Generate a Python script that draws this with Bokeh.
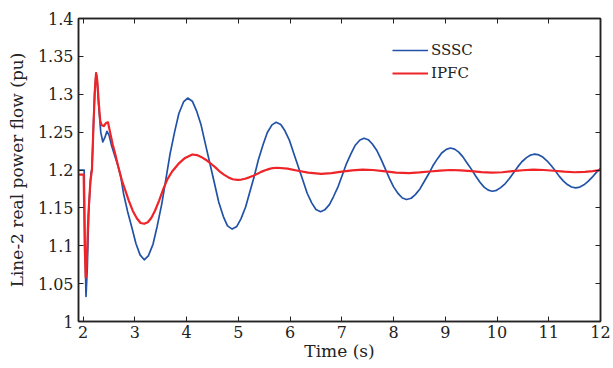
from bokeh.plotting import figure
from bokeh.models import Range1d, FixedTicker, LinearAxis, Legend, LegendItem, CustomJSTickFormatter
from bokeh.embed import file_html
from bokeh.resources import INLINE

# ---- data ----
sssc_t = [1.91, 2.0, 2.02, 2.035, 2.055, 2.08, 2.11, 2.15, 2.17, 2.19, 2.22, 2.25, 2.27, 2.30,
          2.34, 2.38, 2.42, 2.46, 2.50, 2.55, 2.62, 2.68, 2.73, 2.78, 2.86, 2.94, 3.02, 3.10,
          3.18, 3.26, 3.35, 3.43, 3.52, 3.60, 3.68, 3.77, 3.85, 3.94,
          4.02, 4.11, 4.19, 4.28, 4.36, 4.45, 4.54, 4.62, 4.71, 4.79,
          4.88, 4.97, 5.05, 5.14, 5.22, 5.31, 5.39, 5.48, 5.56, 5.65,
          5.73, 5.82, 5.90, 5.99, 6.07, 6.16, 6.25, 6.33, 6.42, 6.50,
          6.59, 6.67, 6.76, 6.84, 6.93, 7.01, 7.09, 7.18, 7.26, 7.35,
          7.43, 7.51, 7.59, 7.68, 7.76, 7.84, 7.92, 8.00, 8.09, 8.17,
          8.25, 8.34, 8.42, 8.51, 8.59, 8.68, 8.76, 8.85, 8.93, 9.02,
          9.10, 9.18, 9.26, 9.34, 9.42, 9.51, 9.59, 9.67, 9.75, 9.83,
          9.91, 9.99, 10.07, 10.16, 10.24, 10.32, 10.40, 10.48, 10.57, 10.65,
          10.73, 10.81, 10.89, 10.97, 11.05, 11.13, 11.20, 11.28, 11.36, 11.44,
          11.52, 11.60, 11.68, 11.76, 11.84, 11.92, 12.0]
sssc_v = [1.200, 1.200, 1.200, 1.100, 1.033, 1.070, 1.150, 1.195, 1.202, 1.240, 1.300, 1.328, 1.320, 1.285,
          1.250, 1.237, 1.243, 1.251, 1.246, 1.232, 1.217, 1.204, 1.190, 1.169, 1.145, 1.1245, 1.103, 1.088,
          1.0815, 1.0867, 1.1019, 1.1255, 1.1553, 1.1883, 1.2212, 1.2510, 1.2746, 1.2898,
          1.2950, 1.2908, 1.2785, 1.2593, 1.2352, 1.2085, 1.1818, 1.1577, 1.1385, 1.1262,
          1.1220, 1.1255, 1.1355, 1.1511, 1.1707, 1.1925, 1.2143, 1.2339, 1.2495, 1.2596,
          1.2630, 1.2601, 1.2517, 1.2387, 1.2222, 1.2040, 1.1858, 1.1693, 1.1563, 1.1479,
          1.1450, 1.1474, 1.1543, 1.1650, 1.1785, 1.1935, 1.2085, 1.2220, 1.2327, 1.2396,
          1.2420, 1.2400, 1.2343, 1.2253, 1.2140, 1.2015, 1.1890, 1.1777, 1.1687, 1.1630,
          1.1610, 1.1627, 1.1675, 1.1750, 1.1845, 1.1950, 1.2055, 1.2150, 1.2225, 1.2273,
          1.2290, 1.2276, 1.2236, 1.2173, 1.2093, 1.2005, 1.1917, 1.1838, 1.1774, 1.1734,
          1.1720, 1.1732, 1.1767, 1.1821, 1.1889, 1.1965, 1.2041, 1.2109, 1.2163, 1.2198,
          1.2210, 1.2199, 1.2168, 1.2118, 1.2056, 1.1988, 1.1919, 1.1857, 1.1808, 1.1776,
          1.1765, 1.1775, 1.1804, 1.1849, 1.1905, 1.1968, 1.2020]

ipfc_t = [1.91, 2.0, 2.01, 2.03, 2.05, 2.07, 2.10, 2.14, 2.17, 2.20, 2.23, 2.25, 2.27, 2.30,
          2.33, 2.36, 2.40, 2.44, 2.48, 2.52, 2.57, 2.62, 2.68, 2.75, 2.82, 2.88, 2.96, 3.04,
          3.11, 3.18, 3.25, 3.32, 3.39, 3.47, 3.55, 3.63, 3.72, 3.84, 3.97,
          4.11, 4.20, 4.28, 4.37, 4.46, 4.55, 4.63, 4.72, 4.81, 4.89,
          4.98, 5.06, 5.13, 5.21, 5.29, 5.37, 5.44, 5.52, 5.60, 5.67,
          5.75, 5.95, 6.15, 6.35, 6.6, 6.8, 7.0, 7.2, 7.4, 7.6, 7.8, 8.05, 8.3, 8.5, 8.7, 8.9,
          9.1, 9.3, 9.5, 9.7, 9.9, 10.1, 10.3, 10.5, 10.7, 10.9, 11.1, 11.3, 11.5, 11.7, 11.85, 12.0]
ipfc_v = [1.194, 1.194, 1.194, 1.100, 1.058, 1.080, 1.140, 1.185, 1.200, 1.260, 1.310, 1.328, 1.320, 1.290,
          1.265, 1.259, 1.258, 1.262, 1.263, 1.250, 1.234, 1.221, 1.204, 1.186, 1.172, 1.160, 1.146, 1.136,
          1.130, 1.129, 1.131, 1.137, 1.1465, 1.160, 1.175, 1.188, 1.198, 1.208, 1.216,
          1.2205, 1.2197, 1.2173, 1.2136, 1.2089, 1.2038, 1.1986, 1.1939, 1.1902, 1.1878,
          1.1870, 1.1874, 1.1885, 1.1903, 1.1925, 1.1950, 1.1975, 1.1997, 1.2015, 1.2026,
          1.2030, 1.2018, 1.1990, 1.1965, 1.1950, 1.1958, 1.1978, 1.1995, 1.2005, 1.2000, 1.1985, 1.1965,
          1.1960, 1.1968, 1.1980, 1.1993,
          1.2000, 1.1995, 1.1985, 1.1972, 1.1965, 1.1970, 1.1985, 1.1997, 1.2005, 1.2000, 1.1990, 1.1978,
          1.1970, 1.1975, 1.1985, 1.2000]

x_ticks = [2, 3, 4, 5, 6, 7, 8, 9, 10, 11, 12]
y_ticks = [1.0, 1.05, 1.1, 1.15, 1.2, 1.25, 1.3, 1.35, 1.4]
y_tick_labels = ["1", "1.05", "1.1", "1.15", "1.2", "1.25", "1.3", "1.35", "1.4"]
series_names = ["SSSC", "IPFC"]

FONT = "DejaVu Serif"
BLUE = "#2152a8"
RED = "#ee2428"

p = figure(width=613, height=368, output_backend="svg", toolbar_location=None,
           x_range=Range1d(1.91, 12.0), y_range=Range1d(1.0, 1.4),
           min_border_left=78, min_border_right=13, min_border_top=18, min_border_bottom=47)
p.grid.visible = False
p.outline_line_color = "#222222"
p.outline_line_width = 1.5
p.background_fill_color = "white"
p.border_fill_color = "white"

p.xaxis.ticker = FixedTicker(ticks=x_ticks)
p.yaxis.ticker = FixedTicker(ticks=y_ticks)
p.yaxis.major_label_overrides = {t: s for t, s in zip(y_ticks, y_tick_labels)}

for ax in (p.xaxis[0], p.yaxis[0]):
    ax.major_tick_in = 5
    ax.major_tick_out = 0
    ax.minor_tick_in = 0
    ax.minor_tick_out = 0
    ax.axis_line_color = "#222222"
    ax.axis_line_width = 1.5
    ax.major_tick_line_color = "#222222"
    ax.major_label_text_font = FONT
    ax.major_label_text_font_size = "16px"
    ax.major_label_text_color = "#222222"
    ax.axis_label_text_font = FONT
    ax.axis_label_text_font_size = "17px"
    ax.axis_label_text_font_style = "normal"
    ax.axis_label_text_color = "#222222"

p.xaxis.axis_label = "Time (s)"
p.yaxis.axis_label = "Line-2 real power flow (pu)"
p.xaxis.major_label_standoff = 4
p.xaxis.axis_label_standoff = 0
p.yaxis.major_label_standoff = 5
p.yaxis.axis_label_standoff = 8

# mirrored axes (ticks only) on top and right
top = LinearAxis(ticker=FixedTicker(ticks=x_ticks), formatter=CustomJSTickFormatter(code="return ''"))
right = LinearAxis(ticker=FixedTicker(ticks=y_ticks), formatter=CustomJSTickFormatter(code="return ''"))
for ax in (top, right):
    ax.major_tick_in = 5
    ax.major_tick_out = 0
    ax.minor_tick_in = 0
    ax.minor_tick_out = 0
    ax.major_label_standoff = 0
    ax.axis_line_color = "#222222"
    ax.axis_line_width = 1.5
    ax.major_tick_line_color = "#222222"
p.add_layout(top, "above")
p.add_layout(right, "right")

r1 = p.line(sssc_t, sssc_v, line_color=BLUE, line_width=1.7, line_join="round")
r2 = p.line(ipfc_t, ipfc_v, line_color=RED, line_width=2.2, line_join="round")

legend = Legend(items=[LegendItem(label=series_names[0], renderers=[r1]),
                       LegendItem(label=series_names[1], renderers=[r2])],
                location=(314, 237), padding=0, margin=0, spacing=1,
                glyph_width=36, glyph_height=22, label_height=22, label_standoff=3,
                border_line_color=None, background_fill_alpha=0)
legend.label_text_font = FONT
legend.label_text_font_size = "15px"
legend.label_text_color = "#222222"
p.add_layout(legend, "center")

open("out.html", "w").write(file_html(p, INLINE))
